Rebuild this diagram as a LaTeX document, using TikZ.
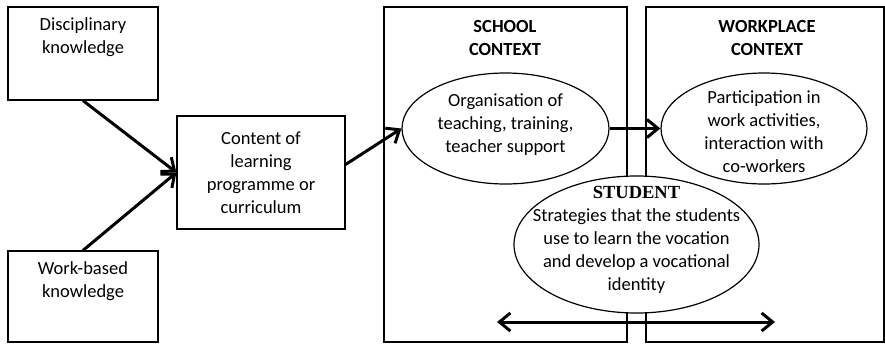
\documentclass[tikz,border=0pt]{standalone}
\usepackage{fontspec}
\setmainfont{Carlito}
\newfontfamily\headfont{Liberation Serif}
\usetikzlibrary{arrows.meta,shapes.geometric,positioning}

\begin{document}
\begin{tikzpicture}[
  x=1pt, y=-1pt,
  >={Straight Barb[length=11pt,width=18pt]},
  kbox/.style={draw, line width=1.2pt, minimum width=150pt, inner sep=0pt},
  ctxbox/.style={draw, line width=1.2pt, minimum height=335pt, inner sep=0pt},
  oval/.style={draw, ellipse, line width=1.2pt, fill=white, inner sep=0pt},
  txt/.style={align=center, font=\fontsize{18.5}{23}\selectfont},
  head/.style={align=center, font=\bfseries\fontsize{18.5}{23}\selectfont},
  arr/.style={->, line width=3pt},
]
\useasboundingbox (0,0) rectangle (885,343);

% knowledge sources and curriculum
\node[kbox, minimum height=93pt] (disc) at (83, 53.5) {};
\node[kbox, minimum height=91pt] (work) at (83, 296.5) {};
\node[txt] at (83, 37.5) {Disciplinary\\knowledge};
\node[txt] at (83, 281.5) {Work-based\\knowledge};
\node[draw, line width=1.2pt, minimum width=168pt, minimum height=113pt, txt] (content) at (261, 172.5) {Content of\\learning\\programme or\\curriculum};

% the two contexts
\node[ctxbox, minimum width=243pt] (school) at (505.5, 174.5) {};
\node[ctxbox, minimum width=238pt] (wplace) at (765, 174.5) {};
\node[head] at (505, 37.5) {SCHOOL\\CONTEXT};
\node[head] at (767, 37.5) {WORKPLACE\\CONTEXT};

\node[oval, minimum width=207pt, minimum height=111pt] (teach) at (505.5, 128.5) {};
\node[txt] at (505.5, 125) {Organisation of\\teaching, training,\\teacher support};
\node[oval, minimum width=206pt, minimum height=111pt] (partic) at (764, 128.5) {};
\node[txt] at (764, 132) {Participation in\\work activities,\\interaction with\\co-workers};

\draw[arr] (disc.south) -- (content.west);
\draw[arr] (work.north) -- (content.west);
\draw[arr] ([yshift=8pt]content.east) -- (teach.west);
\draw[arr] (teach.east) -- (partic.west);

% student in between
\node[oval, minimum width=245pt, minimum height=137pt] (student) at (636.5, 244.5) {};
\node[txt] at (636.5, 240) {{\headfont\bfseries\fontsize{18.5}{23}\selectfont STUDENT}\\Strategies that the students\\use to learn the vocation\\and develop a vocational\\identity};

\coordinate (lend) at (497, 322);
\coordinate (rend) at (775, 322);
\draw[<->, line width=3pt] (lend) -- (rend);

\end{tikzpicture}
\end{document}
